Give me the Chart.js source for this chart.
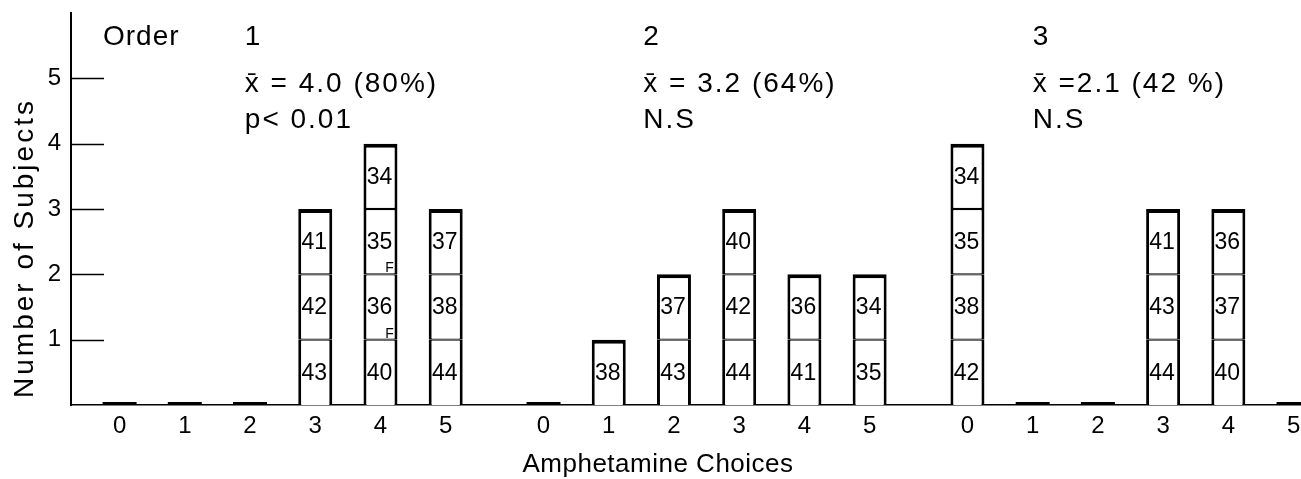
<!DOCTYPE html>
<html>
<head>
<meta charset="utf-8">
<script src="https://cdn.jsdelivr.net/npm/chart.js@4/dist/chart.umd.min.js"></script>
<style>
html,body{margin:0;padding:0;background:#fff;}
#wrap{width:1301px;height:479px;position:relative;}
</style>
</head>
<body>
<div id="wrap"><canvas id="c" width="1301" height="479"></canvas></div>
<script>
// ---- data ----
const choiceLabels = ['0', '1', '2', '3', '4', '5'];
const orderNames = ['1', '2', '3'];
// subject numbers stacked in each bar, bottom to top
const order1Subjects = [[], [], [], [43, 42, 41], [40, 36, 35, 34], [44, 38, 37]];
const order2Subjects = [[], [38], [43, 37], [44, 42, 40], [41, 36], [35, 34]];
const order3Subjects = [[42, 38, 35, 34], [], [], [44, 43, 41], [40, 37, 36], []];
// small marks beside subject numbers
const order1Marks = [[], [], [], [], ['', 'F', 'F', ''], []];
const order2Marks = [[], [], [], [], [], []];
const order3Marks = [[], [], [], [], [], []];
const meanTexts = ['x\u0304 = 4.0 (80%)', 'x\u0304 = 3.2 (64%)', 'x\u0304 =2.1 (42 %)'];
const sigTexts = ['p< 0.01', 'N.S', 'N.S'];
const yTickValues = [1, 2, 3, 4, 5];
const yTitle = 'Number of Subjects';
const xTitle = 'Amphetamine Choices';
const orderWord = 'Order';

// ---- build ----
const groupGap = 6.5;
const groups = [order1Subjects, order2Subjects, order3Subjects];
const groupMarks = [order1Marks, order2Marks, order3Marks];
const bars = [];
groups.forEach((g, gi) => g.forEach((subs, ci) => {
  bars.push({ x: gi * groupGap + ci, label: choiceLabels[ci], subjects: subs, marks: groupMarks[gi][ci] || [] });
}));
const tickLabelMap = {};
bars.forEach(b => { tickLabelMap[b.x.toFixed(2)] = b.label; });
const maxStack = Math.max(...bars.map(b => b.subjects.length));

const datasets = [];
for (let k = 0; k < maxStack; k++) {
  datasets.push({
    label: 'level ' + (k + 1),
    data: bars.map(b => ({ x: b.x, y: b.subjects.length > k ? 1 : null })),
    backgroundColor: '#ffffff',
    borderColor: '#000000',
    borderSkipped: false,
    inflateAmount: 0,
    barThickness: 34,
    borderWidth: (ctx) => {
      const b = bars[ctx.dataIndex];
      if (!b) return 0;
      const n = b.subjects.length;
      return { left: 3, right: 3, top: (k === n - 1) ? 4 : 1.2, bottom: k === 0 ? 0 : 1.2 };
    }
  });
}

const FONT = '"Liberation Sans", Arial, sans-serif';

function drawText(ctx, s, x, y, size, align, baseline, spacing) {
  ctx.font = size + 'px ' + FONT;
  ctx.textAlign = align || 'left';
  ctx.textBaseline = baseline || 'alphabetic';
  try { ctx.letterSpacing = (spacing || 0) + 'px'; } catch (e) {}
  ctx.fillStyle = '#000';
  ctx.fillText(s, x, y);
  try { ctx.letterSpacing = '0px'; } catch (e) {}
}

const annotX = [1.92, 8.03, 14.0];
const orderWordX = -0.255;

const annotPlugin = {
  id: 'annot',
  afterDatasetsDraw(chart) {
    const { ctx } = chart;
    const xs = chart.scales.x, ys = chart.scales.y;
    ctx.save();
    const base = ys.getPixelForValue(0);
    bars.forEach(b => {
      if (b.subjects.length === 0) {
        const px = xs.getPixelForValue(b.x);
        ctx.fillStyle = '#000';
        ctx.fillRect(px - 17, base - 3, 34, 3);
      }
    });
    chart.data.datasets.forEach((ds, k) => {
      chart.getDatasetMeta(k).data.forEach((el, i) => {
        const b = bars[i];
        if (!b || b.subjects.length <= k) return;
        const cy = (el.y + el.base) / 2;
        drawText(ctx, String(b.subjects[k]), el.x - 1, cy + 1, 23, 'center', 'middle', 0);
        const m = b.marks[k];
        if (m) {
          ctx.font = '14px ' + FONT;
          ctx.textAlign = 'center';
          ctx.textBaseline = 'alphabetic';
          ctx.fillText(m, el.x + 9, el.base - 2);
        }
      });
    });
    ctx.restore();
  },
  afterDraw(chart) {
    const { ctx, chartArea } = chart;
    const xs = chart.scales.x, ys = chart.scales.y;
    ctx.save();
    ctx.strokeStyle = '#000';
    ctx.lineWidth = 1.5;
    yTickValues.forEach(v => {
      const py = Math.round(ys.getPixelForValue(v)) + 0.5;
      ctx.beginPath();
      ctx.moveTo(chartArea.left, py);
      ctx.lineTo(chartArea.left + 33, py);
      ctx.stroke();
    });
    drawText(ctx, orderWord, xs.getPixelForValue(orderWordX), 45, 28, 'left', 'alphabetic', 1);
    orderNames.forEach((nm, i) => {
      const px = xs.getPixelForValue(annotX[i]);
      drawText(ctx, nm, px, 45, 28, 'left', 'alphabetic', 1);
      drawText(ctx, meanTexts[i], px, 92, 28, 'left', 'alphabetic', 2);
      drawText(ctx, sigTexts[i], px, 128, 28, 'left', 'alphabetic', 2);
    });
    drawText(ctx, xTitle, 658, 472, 26, 'center', 'alphabetic', 0.5);
    ctx.save();
    ctx.translate(33, 248);
    ctx.rotate(-Math.PI / 2);
    drawText(ctx, yTitle, 0, 0, 28, 'center', 'alphabetic', 3);
    ctx.restore();
    ctx.restore();
  }
};

new Chart(document.getElementById('c'), {
  type: 'bar',
  data: { datasets },
  options: {
    responsive: false,
    animation: false,
    devicePixelRatio: 1,
    layout: { padding: { top: 13, left: 0, right: 0, bottom: 0 } },
    plugins: { legend: { display: false }, tooltip: { enabled: false } },
    scales: {
      x: {
        type: 'linear',
        offset: false,
        min: -0.745,
        max: 18.114,
        stacked: true,
        grid: { display: false, drawTicks: false, offset: false },
        border: { display: true, color: '#000', width: 1.5 },
        ticks: {
          autoSkip: false, maxRotation: 0, padding: 7, color: '#000',
          font: { family: FONT, size: 24 },
          callback: (v) => tickLabelMap[Number(v).toFixed(2)] ?? ''
        },
        afterBuildTicks: (axis) => { axis.ticks = bars.map(b => ({ value: b.x })); },
        afterFit: (axis) => { axis.height = 74; axis.paddingLeft = 0; axis.paddingRight = 0; }
      },
      y: {
        min: 0,
        max: 6,
        stacked: true,
        grid: { display: false, drawTicks: false },
        border: { display: true, color: '#000', width: 2 },
        ticks: { padding: 10, color: '#000', font: { family: FONT, size: 24 } },
        afterBuildTicks: (axis) => { axis.ticks = yTickValues.map(v => ({ value: v })); },
        afterFit: (axis) => { axis.width = 71; axis.paddingTop = 0; axis.paddingBottom = 0; }
      }
    }
  },
  plugins: [annotPlugin]
});
</script>
</body>
</html>
